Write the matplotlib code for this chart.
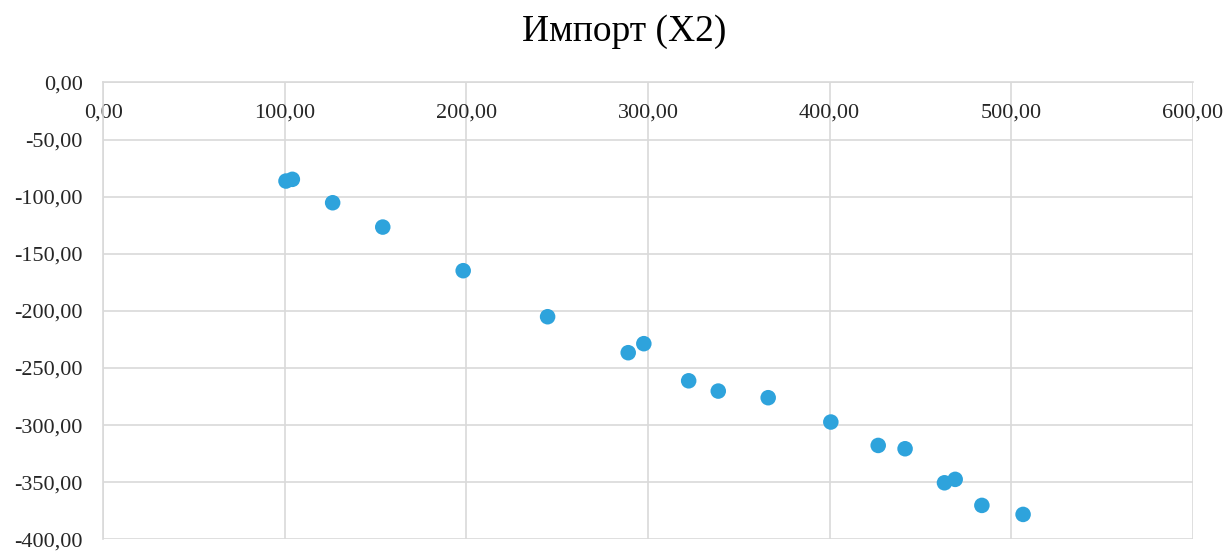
import matplotlib
matplotlib.use("Agg")
import matplotlib.pyplot as plt
from matplotlib.ticker import FuncFormatter, MultipleLocator

# Import (X2) observations
x_values = [100.6, 104.1, 126.3, 153.9, 198.2, 244.7, 289.1, 297.7, 322.4,
            338.7, 366.2, 400.7, 426.8, 441.6, 463.3, 469.2, 483.9, 506.6]
y_values = [-86.3, -84.8, -105.3, -126.6, -164.8, -205.1, -236.6, -228.7, -261.2,
            -270.2, -276.0, -297.3, -317.8, -320.7, -350.5, -347.5, -370.3, -378.2]

title_text = "Импорт (X2)"

plt.rcParams["font.family"] = ["Liberation Serif", "DejaVu Serif"]

fig = plt.figure(figsize=(12.26, 5.51), dpi=100)
ax = fig.add_axes([0.0843, 0.0212, 0.9728 - 0.0843, 0.8503 - 0.0212])

grid_color = "#d9d9d9"
ax.scatter(x_values, y_values, s=125, color="#2ea3dc", edgecolors="none", zorder=3)

ax.set_xlim(0, 600)
ax.set_ylim(-400, 0)
ax.xaxis.set_major_locator(MultipleLocator(100))
ax.yaxis.set_major_locator(MultipleLocator(50))

comma_fmt = FuncFormatter(lambda v, pos: f"{v:.2f}".replace(".", ",").replace("-0,00", "0,00"))
ax.xaxis.set_major_formatter(comma_fmt)
ax.yaxis.set_major_formatter(comma_fmt)

# horizontal axis crosses at y = 0 (top of the plot), labels below it
ax.spines["bottom"].set_position(("data", 0))
for side in ["top", "right"]:
    ax.spines[side].set_visible(False)
for side in ["bottom", "left"]:
    ax.spines[side].set_color(grid_color)
    ax.spines[side].set_linewidth(1.2)

ax.grid(True, color=grid_color, linewidth=1.2, zorder=0)
ax.set_axisbelow(True)
ax.tick_params(axis="both", length=0, labelsize=16, colors="#262626")
ax.tick_params(axis="x", pad=15)
ax.tick_params(axis="y", pad=15)

fig.text(0.509, 0.943, title_text, ha="center", va="center", fontsize=27, color="#000000")

fig.savefig("out.png", dpi=100)
